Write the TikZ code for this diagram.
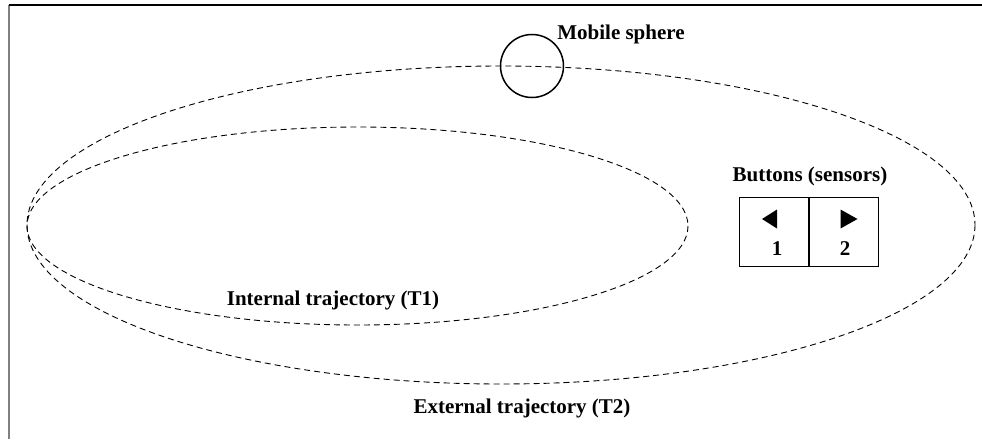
\documentclass[tikz,border=0pt]{standalone}
\usepackage{fontspec}
\setmainfont{Liberation Serif}
\begin{document}
\begin{tikzpicture}[x=1pt,y=-1pt,
  lbl/.style={font=\fontsize{21}{24}\selectfont\bfseries, inner sep=0pt},
  traj/.style={draw=black, line width=0.9pt, dash pattern=on 6pt off 4pt},
  btn/.style={draw=black, line width=0.9pt, minimum width=70pt, minimum height=69pt, inner sep=0pt},
  tri/.style={fill=black, draw=none}]
\useasboundingbox (0,0) rectangle (982,439);
% frame
\draw[gray, line width=1.8pt] (9,439) -- (9,4.5);
\draw[black, line width=1.2pt] (8.5,5) -- (982,5);
% trajectories
\draw[traj] (501,225) ellipse [x radius=474, y radius=159];
\draw[traj] (357.5,226) ellipse [x radius=330.5, y radius=99];
% sphere
\node[draw=black, line width=1.5pt, circle, minimum size=63pt, inner sep=0pt] (sphere) at (532,66) {};
\node[lbl] (sphlbl) at (621,34) {Mobile sphere};
% labels
\node[lbl] (t1) at (333,300) {Internal trajectory (T1)};
\node[lbl] (t2) at (522,408) {External trajectory (T2)};
% buttons
\node[lbl] (btitle) at (810,176) {Buttons (sensors)};
\node[btn] (b1) at (774,231.5) {};
\node[btn] (b2) at (843.5,231.5) {};
\fill[tri] (762,219) -- (777,209.5) -- (777,228.5) -- cycle;
\fill[tri] (857.5,219) -- (840.5,209.5) -- (840.5,228.5) -- cycle;
\node[lbl] (n1) at (777,249) {1};
\node[lbl] (n2) at (845,249) {2};
\end{tikzpicture}
\end{document}
